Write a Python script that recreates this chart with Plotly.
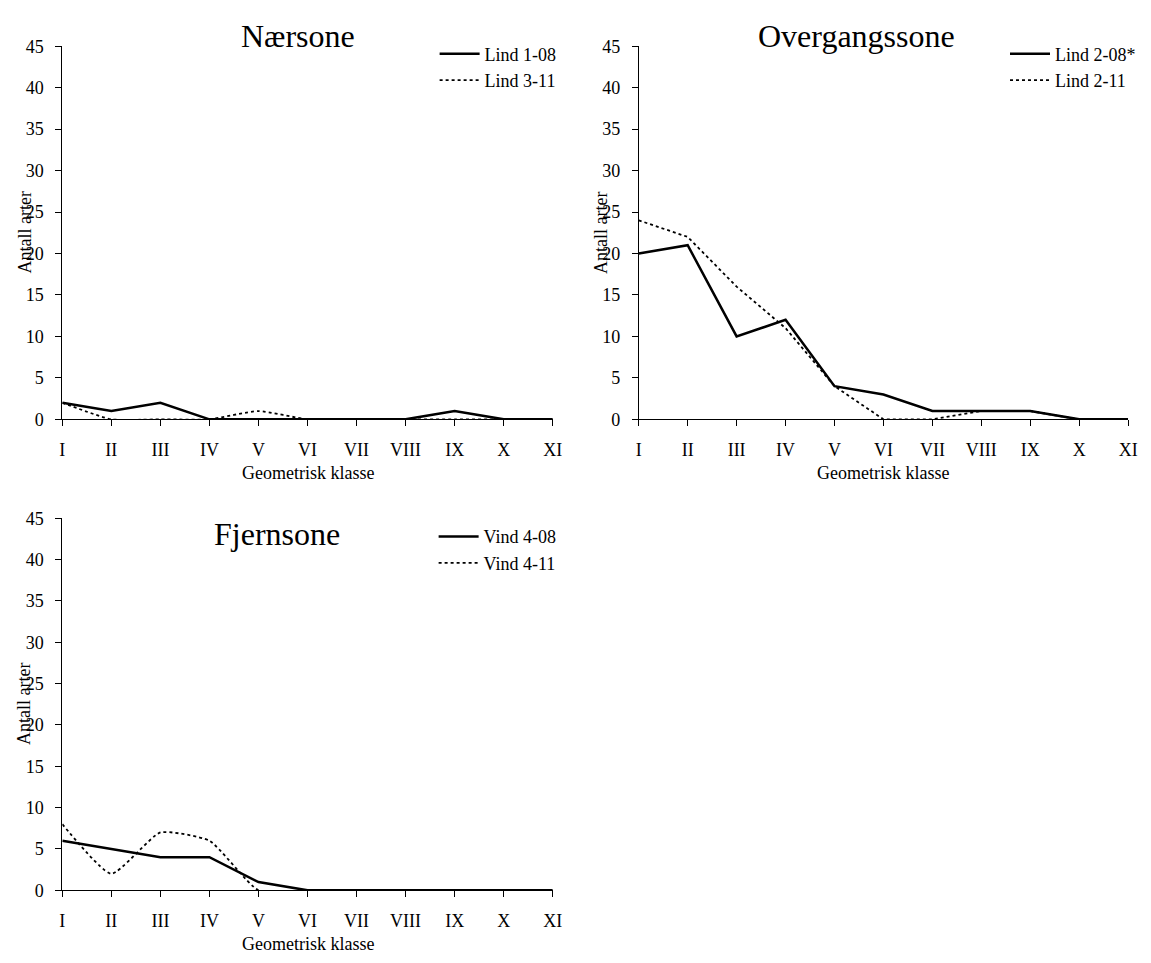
import plotly.graph_objects as go

classes = ["I", "II", "III", "IV", "V", "VI", "VII", "VIII", "IX", "X", "XI"]
y_ticks = [0, 5, 10, 15, 20, 25, 30, 35, 40, 45]

naer_title = "Nærsone"
naer_names = ["Lind 1-08", "Lind 3-11"]
naer_a = [2, 1, 2, 0, 0, 0, 0, 0, 1, 0, 0]
naer_b = [2, 0, 0, 0, 1, 0, 0, 0, 0, 0, 0]

overg_title = "Overgangssone"
overg_names = ["Lind 2-08*", "Lind 2-11"]
overg_a = [20, 21, 10, 12, 4, 3, 1, 1, 1, 0, 0]
overg_b = [24, 22, 16, 11, 4, 0, 0, 1, 1, 0, 0]

fjern_title = "Fjernsone"
fjern_names = ["Vind 4-08", "Vind 4-11"]
fjern_a = [6, 5, 4, 4, 1, 0, 0, 0, 0, 0, 0]
fjern_b = [8, 2, 7, 6, 0, 0, 0, 0, 0, 0, 0]

x_title = "Geometrisk klasse"
y_title = "Antall arter"

W, H = 1151, 963
FONT = "Liberation Serif, Times New Roman, serif"

panels = [
    # title, names, a, b, axis suffix, legend id, x px domain, y px domain, title pos, legend (right x, top y), dotted shape
    (naer_title, naer_names, naer_a, naer_b, "", "legend", (60, 556), (37, 418), (298, 27), (565, 26), "spline"),
    (overg_title, overg_names, overg_a, overg_b, "2", "legend2", (643, 1138), (37, 418), (863, 27), (1151, 26), "linear"),
    (fjern_title, fjern_names, fjern_a, fjern_b, "3", "legend3", (60, 556), (519, 899), (277, 535), (565, 519), "spline"),
]

fig = go.Figure()
xs = list(range(len(classes)))
annotations = []
layout = {}
for (title, names, a, b, suf, leg, (x0, x1), (yt, yb), (tx, ty), (lx, ly), dshape) in panels:
    xa = "x" + suf
    ya = "y" + suf
    fig.add_trace(go.Scatter(x=xs, y=a, mode="lines", name=names[0], xaxis=xa, yaxis=ya,
                             line=dict(color="black", width=2.5), legend=leg))
    dline = dict(color="black", width=1.8, dash="dot", shape=dshape)
    if dshape == "spline":
        dline["smoothing"] = 0.5
    fig.add_trace(go.Scatter(x=xs, y=b, mode="lines", name=names[1], xaxis=xa, yaxis=ya,
                             line=dline, legend=leg))
    layout["xaxis" + suf] = dict(
        domain=[x0 / W, x1 / W], anchor=ya, range=[0, 10],
        tickvals=xs, ticktext=classes, ticks="outside", ticklen=6, tickcolor="black",
        showline=True, linecolor="black", linewidth=1, showgrid=False, zeroline=False,
        tickfont=dict(family=FONT, size=18, color="black"), ticklabelstandoff=8,
        layer="below traces",
    )
    layout["yaxis" + suf] = dict(
        domain=[1 - yb / H, 1 - yt / H], anchor=xa, range=[0, 45],
        tickvals=y_ticks, ticks="outside", ticklen=6, tickcolor="black",
        showline=True, linecolor="black", linewidth=1, showgrid=False, zeroline=False,
        tickfont=dict(family=FONT, size=18, color="black"), ticklabelstandoff=8,
        layer="below traces",
    )
    layout[leg] = dict(
        x=lx / W, xanchor="right", y=1 - ly / H, yanchor="top",
        font=dict(family=FONT, size=18, color="black"), bgcolor="rgba(0,0,0,0)",
        itemwidth=40, tracegroupgap=0,
    )
    annotations.append(dict(text=title, x=tx / W, y=1 - ty / H, xref="paper", yref="paper",
                            showarrow=False, xanchor="center", yanchor="middle",
                            font=dict(family=FONT, size=32, color="black")))
    annotations.append(dict(text=x_title, x=(x0 + x1) / 2 / W, y=1 - (yb + 55) / H,
                            xref="paper", yref="paper", showarrow=False,
                            xanchor="center", yanchor="middle",
                            font=dict(family=FONT, size=18, color="black")))
    annotations.append(dict(text=y_title, x=(x0 - 38) / W, y=1 - (yt + yb) / 2 / H,
                            xref="paper", yref="paper", showarrow=False, textangle=-90,
                            xanchor="center", yanchor="middle",
                            font=dict(family=FONT, size=18, color="black")))

fig.update_layout(
    width=W, height=H, margin=dict(l=0, r=0, t=0, b=0),
    paper_bgcolor="white", plot_bgcolor="white",
    annotations=annotations, **layout,
)
fig.write_html("out.html",
               post_script="document.body.style.margin='0';document.body.style.overflow='hidden';")
